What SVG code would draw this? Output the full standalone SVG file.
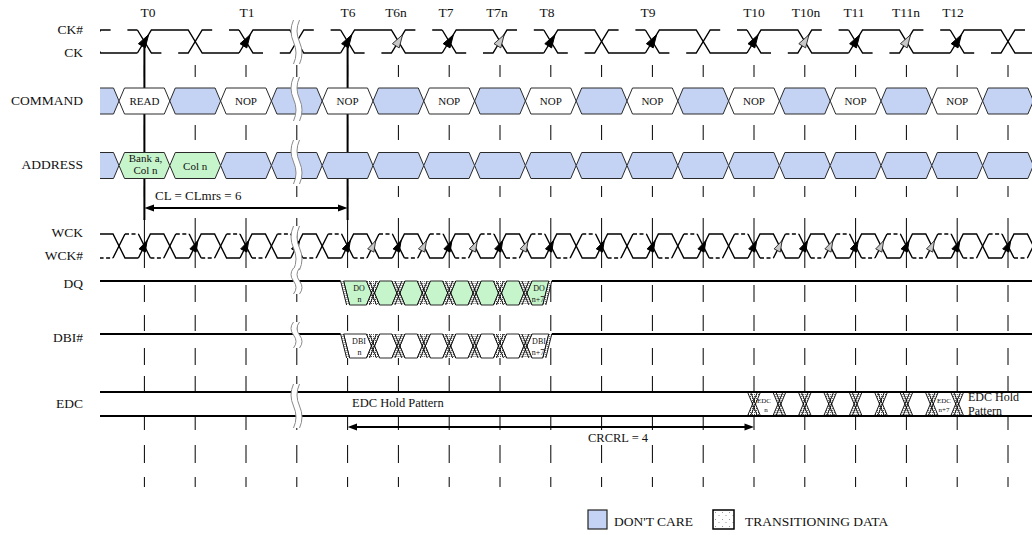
<svg xmlns="http://www.w3.org/2000/svg" width="1032" height="535" viewBox="0 0 1032 535">
<style>
text{font-family:"Liberation Serif","Times New Roman",serif;fill:#111}
.sl{font-size:13.5px;text-anchor:end}
.tl{font-size:13.5px;text-anchor:middle}
.bt{font-size:11px;text-anchor:middle}
.st{font-size:8px;text-anchor:middle}
.et{font-size:7px;text-anchor:middle}
.tk{fill:none;stroke:#000;stroke-width:1}
.vt{fill:none;stroke:#000;stroke-width:2}
.ck{fill:none;stroke:#000;stroke-width:1.4}
.ckd{fill:none;stroke:#000;stroke-width:1.4;stroke-dasharray:4 2.5}
.dc{fill:#c4d3f4;stroke:#2a2a2a;stroke-width:1}
.vd{fill:#c6f5cb;stroke:#2a2a2a;stroke-width:1}
.wh{fill:#fff;stroke:#2a2a2a;stroke-width:1}
.bl{fill:none;stroke:#2a2a2a;stroke-width:1}
.ln{fill:none;stroke:#000;stroke-width:2.2}
.xl{fill:none;stroke:#000;stroke-width:0.9}
.ab{fill:#000;stroke:#000;stroke-width:1;stroke-linejoin:round}
.ag{fill:#c8c8c8;stroke:#222;stroke-width:0.9;stroke-linejoin:round}
.bf{fill:#fff;stroke:none}
.bs{fill:none;stroke:#8a8a8a;stroke-width:1}
.ah{fill:#000;stroke:none}
</style>
<defs>
<pattern id="stp" width="2" height="2" patternUnits="userSpaceOnUse"><rect width="2" height="2" fill="#fff"/><rect width="1" height="1" fill="#555"/></pattern>
<pattern id="lgp" width="7" height="7" patternUnits="userSpaceOnUse"><rect width="7" height="7" fill="#fff"/><rect x="1" y="1" width="1" height="1" fill="#999"/><rect x="4.5" y="4" width="1" height="1" fill="#999"/></pattern>
<clipPath id="clp"><rect x="100" y="0" width="932" height="535"/></clipPath>
<g id="ckp">
<path class="ck" d="M-7,53L7,30H43.8L57.8,53H94.6"/>
<path class="ck" d="M-7,30L7,53H17M33.8,53H43.8L57.8,30H67.8M84.6,30H94.6"/>
<polygon class="ab" points="4.2,34.7 0.8,47.9 -6,43.7"/>
</g>
<polygon id="arc" points="4.2,34.7 0.8,47.9 -6,43.7"/>
<g id="wkp">
<path class="ck" d="M-6,258L6,234H19.4L31.4,258H44.8"/>
<path class="ck" d="M-6,234L6,258M19.4,258L31.4,234"/>
<path class="ckd" d="M6,258H19.4M31.4,234H44.8"/>
<polygon class="ab" points="2.7,240.6 0.9,252.1 -5.3,248.9"/>
</g>
<polygon id="arw" points="2.7,240.6 0.9,252.1 -5.3,248.9"/>
<polygon id="hx" points="0,0 5.5,-13 45.3,-13 50.8,0 45.3,13 5.5,13"/>
<g id="dx">
<polygon points="-6.5,0 6.5,0 1.5,12 6.5,24 -6.5,24 -1.5,12" fill="url(#stp)"/>
<path class="xl" d="M-6.5,0L3.5,24M-6.5,24L3.5,0M-3.5,0L6.5,24M-3.5,24L6.5,0"/>
</g>
<g id="ts">
<polygon points="-7,0 -4,0 2,24 -1,24" fill="url(#stp)"/>
<path class="xl" d="M-7,0L-1,24M-4,0L2,24"/>
</g>
<g id="te">
<polygon points="-8,24 -5,24 1,0 -2,0" fill="url(#stp)"/>
<path class="xl" d="M-8,24L-2,0M-5,24L1,0"/>
</g>
<g id="eyes">
<polygon points="343.6,0 366.5,0 371.5,12 366.5,24 349.6,24"/>
<polygon points="374.5,12 379.5,0 391.9,0 396.9,12 391.9,24 379.5,24"/>
<polygon points="399.9,12 404.9,0 417.3,0 422.3,12 417.3,24 404.9,24"/>
<polygon points="425.3,12 430.3,0 442.7,0 447.7,12 442.7,24 430.3,24"/>
<polygon points="450.7,12 455.7,0 468.1,0 473.1,12 468.1,24 455.7,24"/>
<polygon points="476.1,12 481.1,0 493.5,0 498.5,12 493.5,24 481.1,24"/>
<polygon points="501.5,12 506.5,0 518.9,0 523.9,12 518.9,24 506.5,24"/>
<polygon points="526.9,12 531.9,0 548.8,0 542.8,24 531.9,24"/>
</g>
<g id="trs">
<use href="#ts" x="347.6"/>
<use href="#dx" x="373"/><use href="#dx" x="398.4"/><use href="#dx" x="423.8"/><use href="#dx" x="449.2"/>
<use href="#dx" x="474.6"/><use href="#dx" x="500"/><use href="#dx" x="525.4"/>
<use href="#te" x="550.8"/>
</g>
<path id="tc" class="tk" d="M0,65V77M0,125V140M0,186V197M0,218V268M0,285V302M0,315V331M0,348V365M0,376V392M0,417V430M0,445V463M0,477V487"/>
<path id="tc2" class="tk" d="M0,65V77M0,125V140M0,218V268M0,285V302M0,315V331M0,348V365M0,376V392M0,417V430M0,445V463M0,477V487"/>
</defs>

<rect width="1032" height="535" fill="#fff"/>

<g id="ticks">
<use href="#tc" x="144.4"/><use href="#tc2" x="195.2"/><use href="#tc2" x="246"/><use href="#tc" x="296.8"/>
<use href="#tc" x="347.6"/><use href="#tc" x="398.4"/><use href="#tc" x="449.2"/><use href="#tc" x="500"/>
<use href="#tc" x="550.8"/><use href="#tc" x="601.6"/><use href="#tc" x="652.4"/><use href="#tc" x="703.2"/>
<use href="#tc" x="754"/><use href="#tc" x="804.8"/><use href="#tc" x="855.6"/><use href="#tc" x="906.4"/>
<use href="#tc" x="957.2"/><use href="#tc" x="1008"/>
</g>

<g id="connectors">
<path class="vt" d="M144.4,42V220M347.6,42V220"/>
<path class="vt" d="M152,208H340"/>
<polygon class="ah" points="144.4,208 154,204.5 154,211.5"/>
<polygon class="ah" points="347.6,208 338,204.5 338,211.5"/>
<path class="vt" d="M355,427H746"/>
<polygon class="ah" points="347.6,427 357,423.5 357,430.5"/>
<polygon class="ah" points="754,427 744.5,423.5 744.5,430.5"/>
<text x="155" y="200" style="font-size:13px">CL = CLmrs = 6</text>
<text x="588" y="442" style="font-size:12.5px">CRCRL = 4</text>
</g>

<g id="command">
<polygon points="100,88 113.5,88 119,101 113.5,114 100,114" fill="#c4d3f4"/>
<path class="bl" d="M100,88H113.5L119,101L113.5,114H100"/>
<use href="#hx" x="119" y="101" class="wh"/><use href="#hx" x="169.8" y="101" class="dc"/>
<use href="#hx" x="220.6" y="101" class="wh"/><use href="#hx" x="271.4" y="101" class="dc"/>
<use href="#hx" x="322.2" y="101" class="wh"/><use href="#hx" x="373" y="101" class="dc"/>
<use href="#hx" x="423.8" y="101" class="wh"/><use href="#hx" x="474.6" y="101" class="dc"/>
<use href="#hx" x="525.4" y="101" class="wh"/><use href="#hx" x="576.2" y="101" class="dc"/>
<use href="#hx" x="627" y="101" class="wh"/><use href="#hx" x="677.8" y="101" class="dc"/>
<use href="#hx" x="728.6" y="101" class="wh"/><use href="#hx" x="779.4" y="101" class="dc"/>
<use href="#hx" x="830.2" y="101" class="wh"/><use href="#hx" x="881" y="101" class="dc"/>
<use href="#hx" x="931.8" y="101" class="wh"/><use href="#hx" x="982.6" y="101" class="dc"/>
<text class="bt" x="144.4" y="105">READ</text>
<text class="bt" x="246" y="105">NOP</text>
<text class="bt" x="347.6" y="105">NOP</text>
<text class="bt" x="449.2" y="105">NOP</text>
<text class="bt" x="550.8" y="105">NOP</text>
<text class="bt" x="652.4" y="105">NOP</text>
<text class="bt" x="754" y="105">NOP</text>
<text class="bt" x="855.6" y="105">NOP</text>
<text class="bt" x="957.2" y="105">NOP</text>
</g>

<g id="address">
<polygon points="100,152.5 113.5,152.5 119,165.5 113.5,178.5 100,178.5" fill="#c4d3f4"/>
<path class="bl" d="M100,152.5H113.5L119,165.5L113.5,178.5H100"/>
<use href="#hx" x="119" y="165.5" class="vd"/><use href="#hx" x="169.8" y="165.5" class="vd"/>
<use href="#hx" x="220.6" y="165.5" class="dc"/><use href="#hx" x="271.4" y="165.5" class="dc"/>
<use href="#hx" x="322.2" y="165.5" class="dc"/><use href="#hx" x="373" y="165.5" class="dc"/>
<use href="#hx" x="423.8" y="165.5" class="dc"/><use href="#hx" x="474.6" y="165.5" class="dc"/>
<use href="#hx" x="525.4" y="165.5" class="dc"/><use href="#hx" x="576.2" y="165.5" class="dc"/>
<use href="#hx" x="627" y="165.5" class="dc"/><use href="#hx" x="677.8" y="165.5" class="dc"/>
<use href="#hx" x="728.6" y="165.5" class="dc"/><use href="#hx" x="779.4" y="165.5" class="dc"/>
<use href="#hx" x="830.2" y="165.5" class="dc"/><use href="#hx" x="881" y="165.5" class="dc"/>
<use href="#hx" x="931.8" y="165.5" class="dc"/><use href="#hx" x="982.6" y="165.5" class="dc"/>
<text class="bt" x="145.5" y="162">Bank a,</text>
<text class="bt" x="145.5" y="174">Col n</text>
<text class="bt" x="195.2" y="169.5">Col n</text>
</g>

<g id="ck" clip-path="url(#clp)">
<use href="#ckp" x="42.8"/><use href="#ckp" x="144.4"/><use href="#ckp" x="246"/><use href="#ckp" x="347.6"/>
<use href="#ckp" x="449.2"/><use href="#ckp" x="550.8"/><use href="#ckp" x="652.4"/><use href="#ckp" x="754"/>
<use href="#ckp" x="855.6"/><use href="#ckp" x="957.2"/>
<use href="#arc" x="398.4" class="ag"/><use href="#arc" x="500" class="ag"/>
<use href="#arc" x="804.8" class="ag"/><use href="#arc" x="906.4" class="ag"/>
</g>

<g id="wck" clip-path="url(#clp)">
<use href="#wkp" x="93.6"/><use href="#wkp" x="144.4"/><use href="#wkp" x="195.2"/><use href="#wkp" x="246"/>
<use href="#wkp" x="296.8"/><use href="#wkp" x="347.6"/><use href="#wkp" x="398.4"/><use href="#wkp" x="449.2"/>
<use href="#wkp" x="500"/><use href="#wkp" x="550.8"/><use href="#wkp" x="601.6"/><use href="#wkp" x="652.4"/>
<use href="#wkp" x="703.2"/><use href="#wkp" x="754"/><use href="#wkp" x="804.8"/><use href="#wkp" x="855.6"/>
<use href="#wkp" x="906.4"/><use href="#wkp" x="957.2"/><use href="#wkp" x="1008"/>
<use href="#arw" x="373" class="ag"/><use href="#arw" x="423.8" class="ag"/><use href="#arw" x="474.6" class="ag"/><use href="#arw" x="525.4" class="ag"/>
<use href="#arw" x="779.4" class="ag"/><use href="#arw" x="830.2" class="ag"/><use href="#arw" x="881" class="ag"/><use href="#arw" x="931.8" class="ag"/>
</g>

<g id="dq">
<path class="ln" d="M100,281H340.6M551.8,281H1032"/>
<use href="#eyes" y="281" class="vd"/>
<use href="#trs" y="281"/>
<text class="st" x="359" y="291">DO</text><text class="st" x="359.5" y="302">n</text>
<text class="st" x="539" y="291">DO</text><text class="st" x="538" y="302">n+7</text>
</g>

<g id="dbi">
<path class="ln" d="M100,334H340.6M551.8,334H1032"/>
<use href="#eyes" y="334" class="wh"/>
<use href="#trs" y="334"/>
<text class="st" x="359" y="344">DBI</text><text class="st" x="359.5" y="355">n</text>
<text class="st" x="539" y="344">DBI</text><text class="st" x="538" y="355">n+7</text>
</g>

<g id="edc">
<use href="#dx" x="754" y="392"/><use href="#dx" x="779.4" y="392"/><use href="#dx" x="804.8" y="392"/>
<use href="#dx" x="830.2" y="392"/><use href="#dx" x="855.6" y="392"/><use href="#dx" x="881" y="392"/>
<use href="#dx" x="906.4" y="392"/><use href="#dx" x="931.8" y="392"/><use href="#dx" x="957.2" y="392"/>
<path class="ln" d="M100,392H1032M100,416H1032"/>
<text x="352" y="407" style="font-size:12.5px">EDC Hold Pattern</text>
<text class="et" x="764" y="403">EDC</text><text class="et" x="766" y="412">n</text>
<text class="et" x="944" y="403">EDC</text><text class="et" x="944" y="412">n+7</text>
<text x="968" y="401" style="font-size:12px">EDC Hold</text>
<text x="968" y="415" style="font-size:12px">Pattern</text>
</g>

<g id="breaks">
<path class="bf" d="M293.5,20q-5,11 0,22t0,22L299.5,64q5,-11 0,-22t0,-22Z"/>
<path class="bs" d="M293.5,20q-5,11 0,22t0,22M299.5,20q-5,11 0,22t0,22"/>
<path class="bf" d="M293.5,77q-5,11 0,22t0,22L299.5,121q5,-11 0,-22t0,-22Z"/>
<path class="bs" d="M293.5,77q-5,11 0,22t0,22M299.5,77q-5,11 0,22t0,22"/>
<path class="bf" d="M293.5,140q-5,11 0,22t0,22L299.5,184q5,-11 0,-22t0,-22Z"/>
<path class="bs" d="M293.5,140q-5,11 0,22t0,22M299.5,140q-5,11 0,22t0,22"/>
<path class="bf" d="M293.5,226q-5,11 0,22t0,22L299.5,270q5,-11 0,-22t0,-22Z"/>
<path class="bs" d="M293.5,226q-5,11 0,22t0,22M299.5,226q-5,11 0,22t0,22"/>
<path class="bf" d="M293.5,268q-5,6.5 0,13t0,13L299.5,294q5,-6.5 0,-13t0,-13Z"/>
<path class="bs" d="M293.5,268q-5,6.5 0,13t0,13M299.5,268q-5,6.5 0,13t0,13"/>
<path class="bf" d="M293.5,322q-5,6.5 0,13t0,13L299.5,348q5,-6.5 0,-13t0,-13Z"/>
<path class="bs" d="M293.5,322q-5,6.5 0,13t0,13M299.5,322q-5,6.5 0,13t0,13"/>
<path class="bf" d="M293.5,384q-5,11 0,22t0,22L299.5,428q5,-11 0,-22t0,-22Z"/>
<path class="bs" d="M293.5,384q-5,11 0,22t0,22M299.5,384q-5,11 0,22t0,22"/>
</g>

<g id="labels">
<text class="tl" x="148" y="17">T0</text>
<text class="tl" x="247" y="17">T1</text>
<text class="tl" x="348" y="17">T6</text>
<text class="tl" x="396" y="17">T6n</text>
<text class="tl" x="446" y="17">T7</text>
<text class="tl" x="497" y="17">T7n</text>
<text class="tl" x="547" y="17">T8</text>
<text class="tl" x="648" y="17">T9</text>
<text class="tl" x="754" y="17">T10</text>
<text class="tl" x="806" y="17">T10n</text>
<text class="tl" x="854" y="17">T11</text>
<text class="tl" x="906" y="17">T11n</text>
<text class="tl" x="953" y="17">T12</text>
<text class="sl" x="83" y="34">CK#</text>
<text class="sl" x="83" y="57">CK</text>
<text class="sl" x="83" y="105">COMMAND</text>
<text class="sl" x="83" y="169">ADDRESS</text>
<text class="sl" x="83" y="237">WCK</text>
<text class="sl" x="83" y="260">WCK#</text>
<text class="sl" x="83" y="288">DQ</text>
<text class="sl" x="83" y="342">DBI#</text>
<text class="sl" x="83" y="408">EDC</text>
</g>

<g id="legend">
<rect x="588" y="510" width="19" height="19" fill="#c4d3f4" stroke="#222" stroke-width="1.2"/>
<text x="614" y="526" style="font-size:13.5px">DON'T CARE</text>
<rect x="713" y="510" width="21" height="19" fill="url(#lgp)" stroke="#000" stroke-width="1.5"/>
<text x="745" y="526" style="font-size:13.5px">TRANSITIONING DATA</text>
</g>
</svg>
